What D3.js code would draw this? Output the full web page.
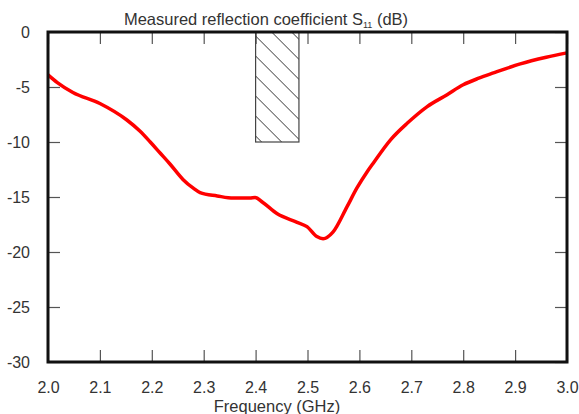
<!DOCTYPE html>
<html>
<head>
<meta charset="utf-8">
<script src="https://cdn.jsdelivr.net/npm/d3@7"></script>
<style>
  body { margin: 0; background: #fff; }
  svg { display: block; font-family: "Liberation Sans", Arial, sans-serif; }
</style>
</head>
<body>
<svg id="chart" width="579" height="414"></svg>
<script>
// measured S11
const freqs = [2.000, 2.018, 2.048, 2.100, 2.152, 2.177, 2.197, 2.216, 2.235, 2.260, 2.280, 2.293,
  2.326, 2.357, 2.389, 2.399, 2.414, 2.441, 2.480, 2.499, 2.518, 2.530, 2.549, 2.576, 2.595,
  2.615, 2.627, 2.660, 2.692, 2.730, 2.769, 2.800, 2.830, 2.860, 2.910, 2.960, 3.000];
const s11 = [-3.9, -4.6, -5.5, -6.5, -8.0, -9.0, -10.0, -11.0, -12.0, -13.4, -14.2, -14.6,
  -14.9, -15.1, -15.1, -15.05, -15.5, -16.5, -17.3, -17.7, -18.6, -18.8, -18.2, -15.9, -14.2,
  -12.7, -11.9, -9.8, -8.3, -6.8, -5.7, -4.8, -4.2, -3.7, -2.9, -2.3, -1.9];

// ISM band, marked with a hatched box
const band = [2.4, 2.4835];
const bandLevel = -10;

const xTicks = [2.0, 2.1, 2.2, 2.3, 2.4, 2.5, 2.6, 2.7, 2.8, 2.9, 3.0];
const yTicks = [0, -5, -10, -15, -20, -25, -30];

class S11Chart {

  constructor(_config) {
    this.config = {
      parentElement: _config.parentElement,
      containerWidth: _config.containerWidth || 579,
      containerHeight: _config.containerHeight || 414,
      margin: { top: 32, bottom: 52, right: 12, left: 48 }
    }
    this.initVis();
  }

  initVis() {
    let vis = this;

    vis.width = vis.config.containerWidth - vis.config.margin.left - vis.config.margin.right;
    vis.height = vis.config.containerHeight - vis.config.margin.top - vis.config.margin.bottom;

    vis.svg = d3.select(vis.config.parentElement);
    vis.chart = vis.svg.append("g")
      .attr("transform", `translate(${vis.config.margin.left},${vis.config.margin.top})`);

    vis.x = d3.scaleLinear().domain([2.0, 3.0]).range([0, vis.width]);
    vis.y = d3.scaleLinear().domain([-30, 0]).range([vis.height, 0]);

    // hatch pattern for the band box
    let defs = vis.svg.append("defs");
    defs.append("pattern")
      .attr("id", "hatch")
      .attr("patternUnits", "userSpaceOnUse")
      .attr("width", 20).attr("height", 20)
      .attr("x", vis.config.margin.left + vis.x(band[0])).attr("y", vis.config.margin.top)
      .append("path")
      .attr("d", "M-5,-5 L25,25 M-5,15 L5,25 M15,-5 L25,5")
      .attr("stroke", "#333")
      .attr("stroke-width", 1);

    vis.updateVis();
  }

  updateVis() {
    let vis = this;
    vis.data = freqs.map((f, i) => ({ f: f, v: s11[i] }));
    vis.renderVis();
  }

  renderVis() {
    let vis = this;
    const tickLen = 12;

    // inward ticks on all four sides
    let bottom = vis.chart.append("g")
      .attr("transform", `translate(0,${vis.height})`)
      .call(d3.axisBottom(vis.x).tickValues(xTicks).tickSize(-tickLen).tickPadding(tickLen + 8).tickFormat(d3.format(".1f")));
    let top = vis.chart.append("g")
      .call(d3.axisTop(vis.x).tickValues(xTicks).tickSize(-tickLen).tickFormat(""));
    let left = vis.chart.append("g")
      .call(d3.axisLeft(vis.y).tickValues(yTicks).tickSize(-tickLen).tickPadding(tickLen + 6).tickFormat(d => String(d)));
    let right = vis.chart.append("g")
      .attr("transform", `translate(${vis.width},0)`)
      .call(d3.axisRight(vis.y).tickValues(yTicks).tickSize(-tickLen).tickFormat(""));

    [bottom, top, left, right].forEach(ax => {
      ax.select(".domain").remove();
      ax.selectAll(".tick line").attr("stroke", "#555").attr("stroke-width", 1.2);
      ax.selectAll(".tick text").attr("fill", "#333").style("font-size", "16px");
    });

    // hatched band box
    vis.chart.append("rect")
      .attr("x", vis.x(band[0]))
      .attr("y", vis.y(0))
      .attr("width", vis.x(band[1]) - vis.x(band[0]))
      .attr("height", vis.y(bandLevel) - vis.y(0))
      .attr("fill", "url(#hatch)")
      .attr("stroke", "#444")
      .attr("stroke-width", 1.2);

    // the measured curve
    let line = d3.line()
      .x(d => vis.x(d.f))
      .y(d => vis.y(d.v))
      .curve(d3.curveMonotoneX);

    vis.chart.append("path")
      .datum(vis.data)
      .attr("d", line)
      .attr("fill", "none")
      .attr("stroke", "#ff0000")
      .attr("stroke-width", 3.5)
      .attr("stroke-linejoin", "round");

    // frame
    vis.chart.append("rect")
      .attr("width", vis.width)
      .attr("height", vis.height)
      .attr("fill", "none")
      .attr("stroke", "#111")
      .attr("stroke-width", 3);

    // title with subscript
    let title = vis.svg.append("text")
      .attr("x", 266)
      .attr("y", 25)
      .attr("text-anchor", "middle")
      .attr("fill", "#333")
      .style("font-size", "16.5px")
      .text("Measured reflection coefficient S");
    title.append("tspan")
      .attr("dy", 3)
      .style("font-size", "9px")
      .text("11");
    title.append("tspan")
      .attr("dy", -3)
      .text(" (dB)");

    vis.svg.append("text")
      .attr("x", 277)
      .attr("y", 412)
      .attr("text-anchor", "middle")
      .attr("fill", "#333")
      .style("font-size", "16.5px")
      .text("Frequency (GHz)");
  }
}

new S11Chart({ parentElement: "#chart" });
</script>
</body>
</html>
